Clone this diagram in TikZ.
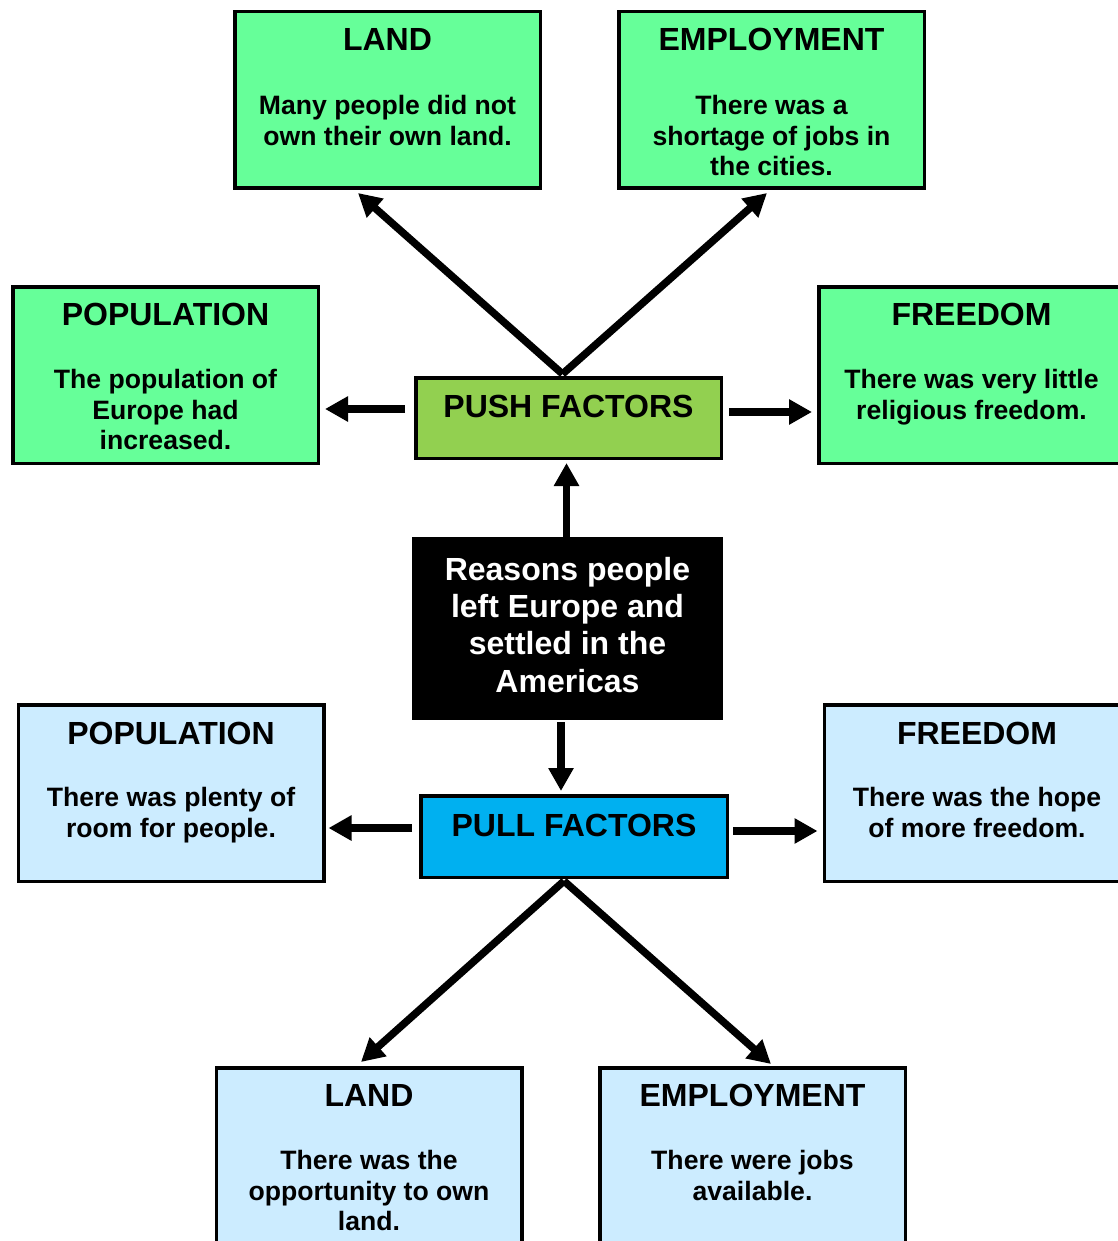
\documentclass[tikz,border=0pt]{standalone}
\usepackage{fontspec}
\setmainfont{Liberation Sans}
\usetikzlibrary{arrows.meta,calc}

\definecolor{pushgreen}{HTML}{66FF99}
\definecolor{pushhead}{HTML}{92D050}
\definecolor{pullblue}{HTML}{CCECFF}
\definecolor{pullhead}{HTML}{00B0F0}

\tikzset{
  card/.style={draw=black, line width=3.5pt, rectangle, inner sep=0pt,
    minimum width=305.5pt, minimum height=176.5pt},
  pushcard/.style={card, fill=pushgreen},
  pullcard/.style={card, fill=pullblue},
  hub/.style={draw=black, line width=3.5pt, rectangle, inner sep=0pt,
    minimum width=305.5pt, minimum height=80.5pt},
  heading/.style={anchor=north, inner sep=0pt, align=center,
    font=\bfseries\fontsize{32}{37}\selectfont},
  detail/.style={anchor=north, inner sep=0pt, align=center,
    font=\bfseries\fontsize{26.6}{30.6}\selectfont},
  arr/.style={line width=7.5pt, -{Triangle[length=23pt,width=24pt]}},
}

\begin{document}
\begin{tikzpicture}[x=1pt,y=-1pt]
  \useasboundingbox (0,0) rectangle (1117,1241);

  % push factor cards
  \node[pushcard] (landA) at (387.5,100) {};
  \node[pushcard] (empA)  at (771.5,100) {};
  \node[pushcard] (popA)  at (165.5,375) {};
  \node[pushcard] (freeA) at (971.5,375) {};

  % pull factor cards
  \node[pullcard] (popB)  at (171,793) {};
  \node[pullcard] (freeB) at (977,793) {};
  \node[pullcard] (landB) at (369,1156) {};
  \node[pullcard] (empB)  at (752.5,1156) {};

  % central hubs
  \node[hub, fill=pushhead] (push) at (568.5,418) {};
  \node[hub, fill=pullhead, minimum width=306.5pt, minimum height=81.5pt] (pull) at (574,836.5) {};
  \node[rectangle, fill=black, inner sep=0pt, minimum width=311pt, minimum height=183pt] (reasons) at (567.5,628.5) {};

  % card texts
  \node[heading] (landAt) at ($(landA.north)+(0,18)$) {LAND};
  \node[detail]  (landAd) at ($(landA.north)+(0,85)$) {Many people did not\\own their own land.};
  \node[heading] (empAt) at ($(empA.north)+(0,18)$) {EMPLOYMENT};
  \node[detail]  (empAd) at ($(empA.north)+(0,85)$) {There was a\\shortage of jobs in\\the cities.};
  \node[heading] (popAt) at ($(popA.north)+(0,18)$) {POPULATION};
  \node[detail]  (popAd) at ($(popA.north)+(0,84)$) {The population of\\Europe had\\increased.};
  \node[heading] (freeAt) at ($(freeA.north)+(0,18)$) {FREEDOM};
  \node[detail]  (freeAd) at ($(freeA.north)+(0,84)$) {There was very little\\religious freedom.};

  \node[heading] (popBt) at ($(popB.north)+(0,19)$) {POPULATION};
  \node[detail]  (popBd) at ($(popB.north)+(0,84)$) {There was plenty of\\room for people.};
  \node[heading] (freeBt) at ($(freeB.north)+(0,19)$) {FREEDOM};
  \node[detail]  (freeBd) at ($(freeB.north)+(0,84)$) {There was the hope\\of more freedom.};
  \node[heading] (landBt) at ($(landB.north)+(0,18)$) {LAND};
  \node[detail]  (landBd) at ($(landB.north)+(0,84)$) {There was the\\opportunity to own\\land.};
  \node[heading] (empBt) at ($(empB.north)+(0,18)$) {EMPLOYMENT};
  \node[detail]  (empBd) at ($(empB.north)+(0,84)$) {There were jobs\\available.};

  \node[heading] (pusht) at ($(push.north)+(0,19)$) {PUSH FACTORS};
  \node[heading] (pullt) at ($(pull.north)+(0,20)$) {PULL FACTORS};
  \node[heading, text=white, font=\bfseries\fontsize{32}{37.3}\selectfont] (reasonst)
    at ($(reasons.north)+(0,20)$) {Reasons people\\left Europe and\\settled in the\\Americas};

  % connectors from the central box
  \draw[arr] ($(reasons.north)+(-1,0)$) -- ($(push.south)+(-2,3)$);
  \draw[arr] ($(reasons.south)+(-6.5,2)$) -- ($(pull.north)+(-13,-3)$);

  % push factors
  \draw[arr] ($(push.north)+(-6,-2)$) -- ($(landA.south)+(-29.5,3)$);
  \draw[arr] ($(push.north)+(-6,-2)$) -- ($(empA.south)+(-4.5,3)$);
  \draw[arr] ($(push.west)+(-9,-9)$) -- ($(popA.east)+(5,34)$);
  \draw[arr] ($(push.east)+(6,-6)$) -- ($(freeA.west)+(-5,37)$);

  % pull factors
  \draw[arr] ($(pull.south)+(-10,2)$) -- ($(landB.north)+(-8,-4)$);
  \draw[arr] ($(pull.south)+(-10,2)$) -- ($(empB.north)+(18.5,-2)$);
  \draw[arr] ($(pull.west)+(-7,-8.5)$) -- ($(popB.east)+(3,35)$);
  \draw[arr] ($(pull.east)+(4,-5.5)$) -- ($(freeB.west)+(-5,38)$);
\end{tikzpicture}
\end{document}
